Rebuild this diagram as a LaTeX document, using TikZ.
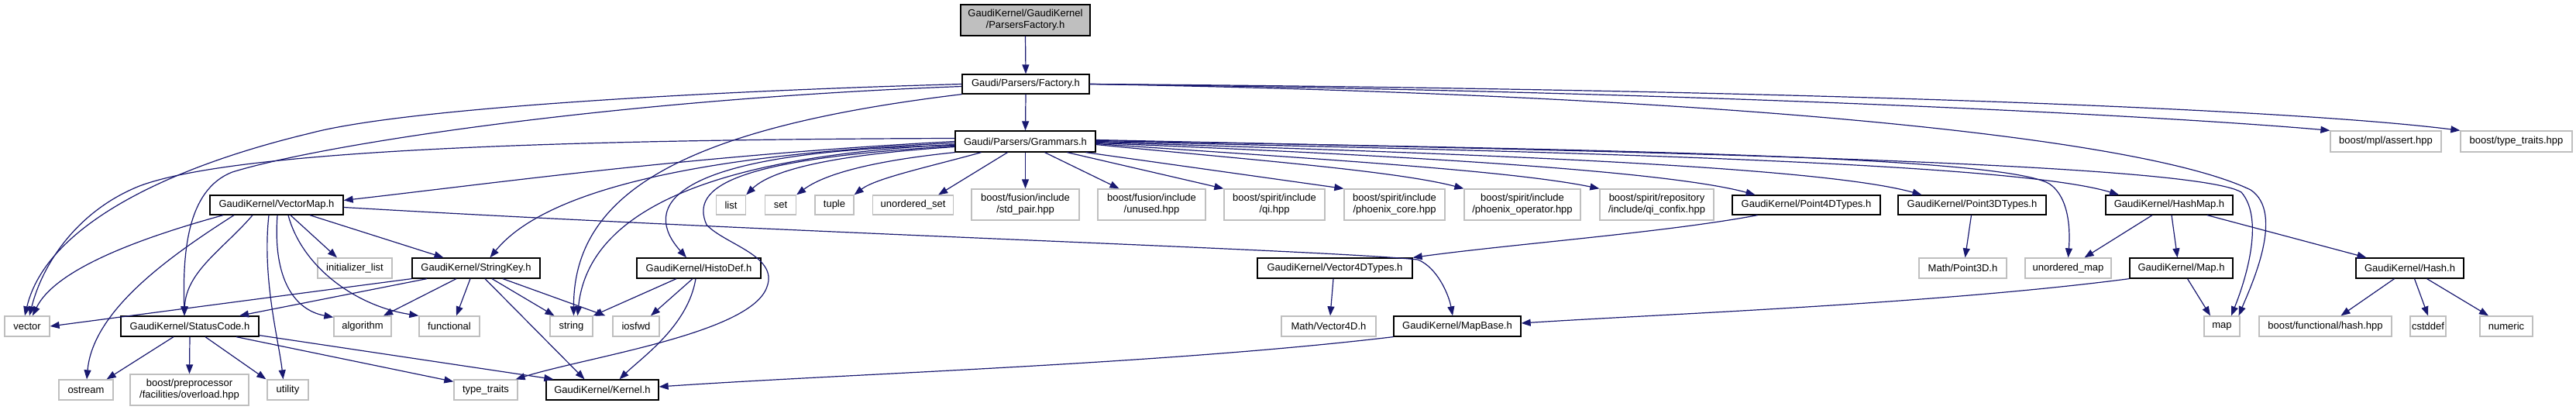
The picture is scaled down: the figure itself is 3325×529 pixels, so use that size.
\documentclass[tikz,border=0pt]{standalone}
\usepackage{fontspec}
\setmainfont{Liberation Sans}
\usetikzlibrary{arrows.meta}
\definecolor{edgeblue}{HTML}{191970}
\definecolor{greyline}{HTML}{BFBFBF}
\definecolor{rootfill}{HTML}{BFBFBF}
\begin{document}
\begin{tikzpicture}[x=1pt,y=-1pt,
  every node/.style={font=\fontsize{13}{15}\selectfont, inner sep=0pt, align=center},
  dnode/.style={draw=black, line width=1.3pt, fill=white},
  xnode/.style={draw=greyline, line width=1.3pt, fill=white},
  rnode/.style={draw=black, line width=1.3pt, fill=rootfill},
  dep/.style={draw=edgeblue, line width=1.2pt, -{Triangle[length=12pt,width=9pt]}},
  ]
\useasboundingbox (0,0) rectangle (3325,529);
% row 0-2
\node[rnode, minimum width=167pt, minimum height=40pt] (pf) at (1323.5,26) {GaudiKernel/GaudiKernel\\/ParsersFactory.h};
\node[dnode, minimum width=164pt, minimum height=25pt] (fac) at (1324,108.5) {Gaudi/Parsers/Factory.h};
\node[dnode, minimum width=181pt, minimum height=27pt] (gram) at (1323.5,182.5) {Gaudi/Parsers/Grammars.h};
\node[xnode, minimum width=143pt, minimum height=27pt] (assert) at (3079.5,182.5) {boost/mpl/assert.hpp};
\node[xnode, minimum width=144pt, minimum height=27pt] (btt) at (3248,182.5) {boost/type\_traits.hpp};
% row 3
\node[dnode, minimum width=172pt, minimum height=25pt] (vmap) at (357,264.5) {GaudiKernel/VectorMap.h};
\node[xnode, minimum width=38pt, minimum height=25pt] (list) at (943.5,264.5) {list};
\node[xnode, minimum width=40pt, minimum height=25pt] (set) at (1007.5,264.5) {set};
\node[xnode, minimum width=50pt, minimum height=25pt] (tuple) at (1077,264.5) {tuple};
\node[xnode, minimum width=104pt, minimum height=25pt] (uset) at (1178.5,264.5) {unordered\_set};
\node[xnode, minimum width=139pt, minimum height=40pt] (stdpair) at (1323.5,264) {boost/fusion/include\\/std\_pair.hpp};
\node[xnode, minimum width=139pt, minimum height=40pt] (unused) at (1486.5,264) {boost/fusion/include\\/unused.hpp};
\node[xnode, minimum width=130pt, minimum height=40pt] (qi) at (1645,264) {boost/spirit/include\\/qi.hpp};
\node[xnode, minimum width=130pt, minimum height=40pt] (pcore) at (1800,264) {boost/spirit/include\\/phoenix\_core.hpp};
\node[xnode, minimum width=150pt, minimum height=40pt] (pop) at (1965,264) {boost/spirit/include\\/phoenix\_operator.hpp};
\node[xnode, minimum width=147pt, minimum height=40pt] (confix) at (2138.5,264) {boost/spirit/repository\\/include/qi\_confix.hpp};
\node[dnode, minimum width=191pt, minimum height=25pt] (p4d) at (2331.5,264.5) {GaudiKernel/Point4DTypes.h};
\node[dnode, minimum width=191pt, minimum height=25pt] (p3d) at (2545.5,264.5) {GaudiKernel/Point3DTypes.h};
\node[dnode, minimum width=164pt, minimum height=25pt] (hmap) at (2800,264.5) {GaudiKernel/HashMap.h};
% row 4
\node[xnode, minimum width=96pt, minimum height=26pt] (initl) at (458,346) {initializer\_list};
\node[dnode, minimum width=165pt, minimum height=26pt] (skey) at (614.5,346) {GaudiKernel/StringKey.h};
\node[dnode, minimum width=160pt, minimum height=26pt] (hdef) at (902,346) {GaudiKernel/HistoDef.h};
\node[dnode, minimum width=200pt, minimum height=26pt] (v4d) at (1723,346) {GaudiKernel/Vector4DTypes.h};
\node[xnode, minimum width=113pt, minimum height=26pt] (mp3d) at (2533.5,346) {Math/Point3D.h};
\node[xnode, minimum width=111pt, minimum height=26pt] (umap) at (2669.5,346) {unordered\_map};
\node[dnode, minimum width=133pt, minimum height=26pt] (mapH) at (2815.5,346) {GaudiKernel/Map.h};
\node[dnode, minimum width=139pt, minimum height=26pt] (hash) at (3110.5,346) {GaudiKernel/Hash.h};
% row 5
\node[xnode, minimum width=58pt, minimum height=26pt] (vector) at (35,421) {vector};
\node[dnode, minimum width=178pt, minimum height=26pt] (sc) at (245,421) {GaudiKernel/StatusCode.h};
\node[xnode, minimum width=74pt, minimum height=26pt] (algo) at (468,421) {algorithm};
\node[xnode, minimum width=78pt, minimum height=26pt] (func) at (580,421) {functional};
\node[xnode, minimum width=55pt, minimum height=26pt] (string) at (737.5,421) {string};
\node[xnode, minimum width=60pt, minimum height=26pt] (iosfwd) at (821,421) {iosfwd};
\node[xnode, minimum width=122pt, minimum height=26pt] (mv4d) at (1715,421) {Math/Vector4D.h};
\node[dnode, minimum width=164pt, minimum height=26pt] (mbase) at (1881,421) {GaudiKernel/MapBase.h};
\node[xnode, minimum width=46pt, minimum height=26pt] (map) at (2868,421) {map};
\node[xnode, minimum width=171pt, minimum height=26pt] (bfhash) at (3001.5,421) {boost/functional/hash.hpp};
\node[xnode, minimum width=46pt, minimum height=26pt] (cstddef) at (3134,421) {cstddef};
\node[xnode, minimum width=68pt, minimum height=26pt] (numeric) at (3235,421) {numeric};
% row 6
\node[xnode, minimum width=70pt, minimum height=26pt] (ostream) at (111,503) {ostream};
\node[xnode, minimum width=153pt, minimum height=40pt] (overload) at (244.5,503) {boost/preprocessor\\/facilities/overload.hpp};
\node[xnode, minimum width=53pt, minimum height=26pt] (utility) at (371.5,503) {utility};
\node[xnode, minimum width=82pt, minimum height=26pt] (ttraits) at (627,503) {type\_traits};
\node[dnode, minimum width=145pt, minimum height=26pt] (kern) at (777.5,503) {GaudiKernel/Kernel.h};

% root
\draw[dep] (pf.south) -- (fac.north);
% Factory.h
\draw[dep] (fac.south) -- (gram.north);
\draw[dep] (fac.west) .. controls (900,118) and (520,140) .. (400,172) .. controls (220,215) and (60,290) .. ([xshift=-3pt]vector.north);
\draw[dep] ([yshift=-3pt]fac.west) .. controls (800,128) and (420,185) .. (300,222) .. controls (240,245) and (236,330) .. ([xshift=-7pt]sc.north);
\draw[dep] (fac.south west) .. controls (880,165) and (740,250) .. ([xshift=3pt]string.north);
\draw[dep] (fac.east) .. controls (2200,122) and (2760,175) .. (2905,245) .. controls (2950,275) and (2905,370) .. ([xshift=-2pt]map.north east);
\draw[dep] (fac.east) .. controls (2200,118) and (2800,150) .. (assert.north west);
\draw[dep] (fac.east) .. controls (2300,115) and (2950,140) .. (btt.north west);
% Grammars.h
\draw[dep] (gram.west) .. controls (900,200) and (650,235) .. ([yshift=6pt]vmap.east);
\draw[dep] ([yshift=4pt]gram.west) .. controls (700,180) and (300,195) .. (180,240) .. controls (100,272) and (55,340) .. ([xshift=3pt]vector.north);
\draw[dep] ([yshift=-2pt]gram.west) .. controls (1000,195) and (720,225) .. ([xshift=18pt]skey.north);
\draw[dep] ([yshift=-4pt]gram.west) .. controls (950,200) and (760,260) .. ([xshift=8pt]string.north);
\draw[dep] ([yshift=-5pt]gram.west) .. controls (850,195) and (830,270) .. ([xshift=-16pt]hdef.north);
\draw[dep] ([yshift=-6pt]gram.west) .. controls (950,205) and (890,240) .. (912,290) .. controls (935,315) and (1005,330) .. (990,370) .. controls (970,430) and (760,460) .. ([xshift=-3pt]ttraits.north east);
\draw[dep] ([yshift=-7pt]gram.west) .. controls (1100,198) and (1000,215) .. (list.north east);
\draw[dep] (gram.south west) .. controls (1150,205) and (1070,220) .. (set.north east);
\draw[dep] ([xshift=-57pt]gram.south) .. controls (1200,215) and (1130,230) .. (tuple.north east);
\draw[dep] ([xshift=-23pt]gram.south) -- ([xshift=-20pt]uset.north east);
\draw[dep] (gram.south) -- (stdpair.north);
\draw[dep] ([xshift=25pt]gram.south) -- ([xshift=-42pt]unused.north);
\draw[dep] ([xshift=54pt]gram.south) -- (qi.north west);
\draw[dep] ([xshift=78pt]gram.south) -- (pcore.north west);
\draw[dep] ([yshift=-4pt]gram.east) .. controls (1600,205) and (1800,220) .. (pop.north west);
\draw[dep] ([yshift=-3pt]gram.east) .. controls (1700,205) and (1950,220) .. (confix.north west);
\draw[dep] ([yshift=-2pt]gram.east) .. controls (1800,200) and (2150,220) .. ([xshift=-66pt]p4d.north);
\draw[dep] ([yshift=-1pt]gram.east) .. controls (1900,198) and (2350,215) .. ([xshift=-65pt]p3d.north);
\draw[dep] (gram.east) .. controls (2000,195) and (2600,210) .. ([xshift=-65pt]hmap.north);
\draw[dep] ([yshift=1pt]gram.east) .. controls (2000,192) and (2580,200) .. (2645,237) .. controls (2672,255) and (2672,300) .. (umap.north);
\draw[dep] ([yshift=2pt]gram.east) .. controls (2100,195) and (2830,210) .. (2893,248) .. controls (2925,285) and (2895,370) .. ([xshift=12pt]map.north);
% VectorMap.h
\draw[dep] ([xshift=-69pt]vmap.south) .. controls (170,310) and (70,350) .. ([xshift=7pt]vector.north);
\draw[dep] ([xshift=-31pt]vmap.south) .. controls (290,320) and (240,350) .. ([xshift=-7pt]sc.north);
\draw[dep] ([xshift=-55pt]vmap.south) .. controls (220,330) and (120,400) .. ([xshift=1pt]ostream.north);
\draw[dep] ([xshift=-10pt]vmap.south) .. controls (338,360) and (360,440) .. ([xshift=-6pt]utility.north);
\draw[dep] ([xshift=1pt]vmap.south) .. controls (352,360) and (380,400) .. ([yshift=-2pt]algo.north west);
\draw[dep] ([xshift=15pt]vmap.south) .. controls (390,345) and (460,395) .. (func.north west);
\draw[dep] ([xshift=18pt]vmap.south) -- ([xshift=-23pt]initl.north);
\draw[dep] ([xshift=43pt]vmap.south) -- ([xshift=-42pt]skey.north);
\draw[dep] ([yshift=-3pt]vmap.east) .. controls (1000,300) and (1700,322) .. (1830,335) .. controls (1855,345) and (1870,380) .. ([xshift=-6pt]mbase.north);
% StringKey.h
\draw[dep] (skey.south west) -- (vector.east);
\draw[dep] ([xshift=-63.5pt]skey.south) -- ([xshift=64pt]sc.north);
\draw[dep] ([xshift=-25.5pt]skey.south) -- ([xshift=27pt]algo.north);
\draw[dep] ([xshift=-7.5pt]skey.south) -- ([xshift=9pt]func.north);
\draw[dep] ([xshift=20.5pt]skey.south) -- ([xshift=-22pt]string.north);
\draw[dep] ([xshift=34.5pt]skey.south) -- ([xshift=-9pt]iosfwd.north west);
\draw[dep] ([xshift=11.5pt]skey.south) -- ([xshift=-23pt]kern.north);
% HistoDef.h
\draw[dep] ([xshift=-29pt]hdef.south) -- (string.north east);
\draw[dep] ([xshift=-8pt]hdef.south) -- ([xshift=19pt]iosfwd.north);
\draw[dep] ([xshift=-4pt]hdef.south) .. controls (888,420) and (830,460) .. ([xshift=22pt]kern.north);
% StatusCode.h
\draw[dep] ([xshift=-21pt]sc.south) -- ([xshift=-9pt]ostream.north east);
\draw[dep] (sc.south) -- (overload.north);
\draw[dep] ([xshift=20pt]sc.south) -- ([xshift=-1pt]utility.north west);
\draw[dep] ([xshift=60pt]sc.south) -- ([yshift=-3pt]ttraits.north west);
\draw[dep] ([yshift=2pt]sc.south east) -- ([xshift=10pt]kern.north west);
% MapBase.h, Map.h
\draw[dep] (mbase.south west) .. controls (1500,470) and (1100,482) .. ([yshift=4pt]kern.east);
\draw[dep] (mapH.south west) .. controls (2500,392) and (2150,405) .. ([yshift=4pt]mbase.east);
\draw[dep] ([xshift=8pt]mapH.south) -- ([xshift=-15pt]map.north);
% HashMap.h, Hash.h
\draw[dep] ([xshift=-22pt]hmap.south) -- ([xshift=21pt]umap.north);
\draw[dep] ([xshift=3pt]hmap.south) -- ([xshift=-5pt]mapH.north);
\draw[dep] ([xshift=49pt]hmap.south) -- ([xshift=-56pt]hash.north);
\draw[dep] ([xshift=-20pt]hash.south) -- ([xshift=20pt]bfhash.north);
\draw[dep] ([xshift=6pt]hash.south) -- (cstddef.north);
\draw[dep] ([xshift=22pt]hash.south) -- ([xshift=-23pt]numeric.north);
% Point / Vector types
\draw[dep] ([xshift=-63pt]p4d.south) .. controls (2150,300) and (1950,315) .. (v4d.north east);
\draw[dep] ([xshift=-1pt]p3d.south) -- ([xshift=3pt]mp3d.north);
\draw[dep] ([xshift=-2pt]v4d.south) -- ([xshift=2pt]mv4d.north);
\end{tikzpicture}
\end{document}
